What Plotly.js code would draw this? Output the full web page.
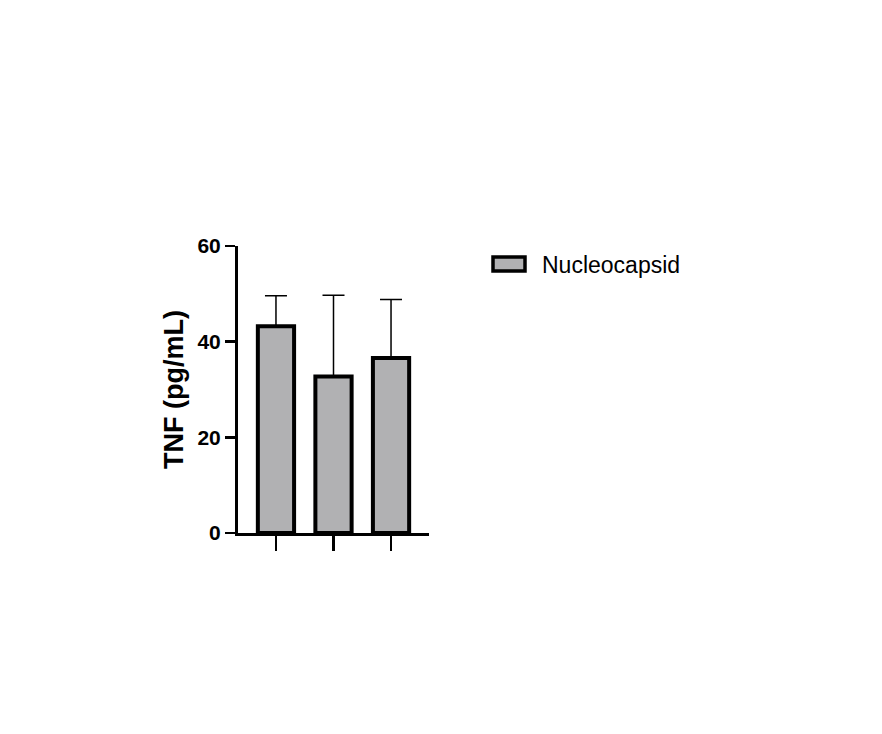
<!DOCTYPE html>
<html>
<head>
<meta charset="utf-8">
<script src="https://cdn.plot.ly/plotly-3.0.1.min.js"></script>
<style>
  html, body { margin: 0; padding: 0; background: #fff; }
  #plot { width: 882px; height: 734px; }
</style>
</head>
<body>
<div id="plot"></div>
<script>
// values
const groups = [0, 1, 2];
const tnfMean = [43.2, 32.7, 36.6];
const tnfErrUp = [6.4, 17.0, 12.2];
const seriesName = 'Nucleocapsid';

const bars = {
  x: groups,
  y: tnfMean,
  type: 'bar',
  width: 0.63,
  name: seriesName,
  marker: {
    color: '#b1b1b3',
    line: { color: '#000', width: 4 }
  },
  error_y: {
    type: 'data',
    symmetric: false,
    array: tnfErrUp,
    arrayminus: groups.map(() => 0),
    color: '#000',
    thickness: 1.5,
    width: 11
  },
  showlegend: false
};

const font = 'Liberation Sans, Arial, Helvetica, sans-serif';

const layout = {
  width: 882,
  height: 734,
  margin: { l: 238, r: 453, t: 246, b: 201 },
  paper_bgcolor: '#fff',
  plot_bgcolor: '#fff',
  showlegend: false,
  xaxis: {
    range: [-0.66, 2.66],
    tickvals: groups,
    showticklabels: false,
    ticks: 'outside',
    ticklen: 15,
    tickwidth: 2.5,
    tickcolor: '#000',
    showline: true,
    linewidth: 3,
    linecolor: '#000',
    showgrid: false,
    zeroline: false,
    fixedrange: true
  },
  yaxis: {
    range: [0, 60],
    tickvals: [0, 20, 40, 60],
    ticks: 'outside',
    ticklen: 10,
    tickwidth: 2.5,
    tickcolor: '#000',
    showline: true,
    linewidth: 3,
    linecolor: '#000',
    showgrid: false,
    zeroline: false,
    tickfont: { family: font, size: 21, color: '#000', weight: 'bold' },
    title: {
      text: 'TNF (pg/mL)',
      font: { family: font, size: 27, color: '#000', weight: 'bold' },
      standoff: 6
    },
    fixedrange: true
  },
  // legend box and label, placed to the right of the plot
  shapes: [{
    type: 'rect',
    xref: 'paper', yref: 'paper',
    x0: (493 - 238) / 191, x1: (525 - 238) / 191,
    y0: (533 - 271) / 287, y1: (533 - 257) / 287,
    fillcolor: '#b1b1b3',
    line: { color: '#000', width: 3.5 }
  }],
  annotations: [{
    xref: 'paper', yref: 'paper',
    x: (540 - 238) / 191, y: (533 - 265) / 287,
    xanchor: 'left', yanchor: 'middle',
    text: seriesName,
    showarrow: false,
    font: { family: font, size: 23, color: '#000' }
  }]
};

Plotly.newPlot('plot', [bars], layout, { displayModeBar: false, staticPlot: true });
</script>
</body>
</html>
